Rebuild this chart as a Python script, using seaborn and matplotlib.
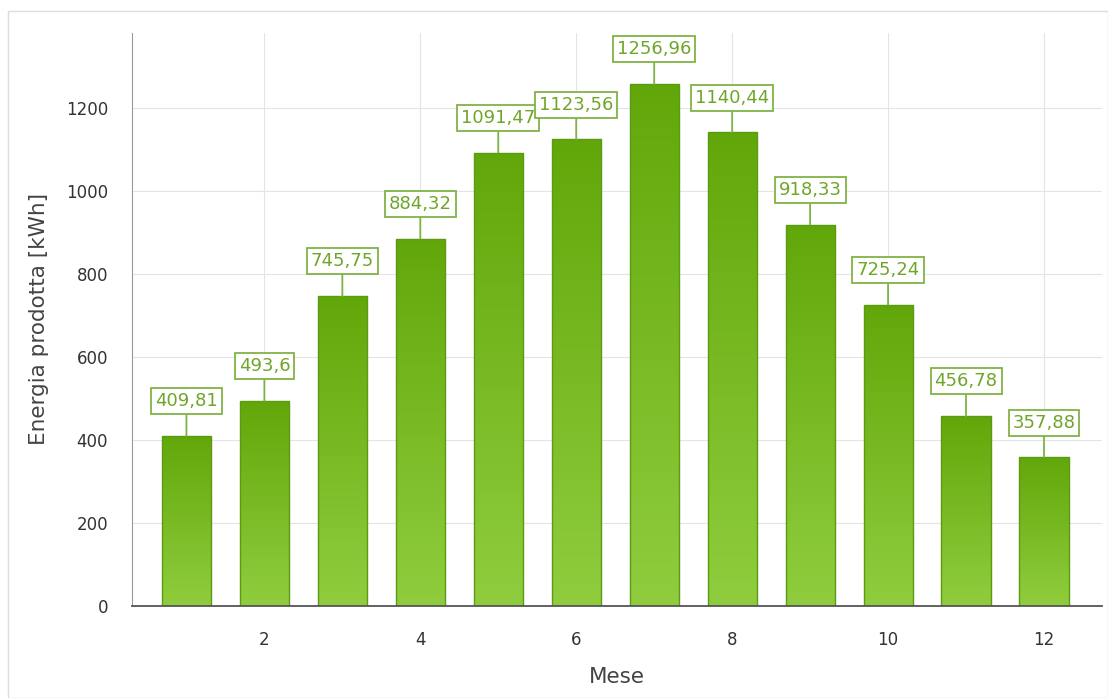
import numpy as np
import pandas as pd
import seaborn as sns
import matplotlib.pyplot as plt
from matplotlib.ticker import MultipleLocator
from matplotlib.colors import LinearSegmentedColormap
from matplotlib.patches import Rectangle

mesi = [1, 2, 3, 4, 5, 6, 7, 8, 9, 10, 11, 12]
energia = [409.81, 493.6, 745.75, 884.32, 1091.47, 1123.56, 1256.96, 1140.44, 918.33, 725.24, 456.78, 357.88]
etichette = ['409,81', '493,6', '745,75', '884,32', '1091,47', '1123,56', '1256,96', '1140,44', '918,33', '725,24', '456,78', '357,88']

df = pd.DataFrame({'Mese': mesi, 'Energia': energia})

sns.set_style('white')
plt.rcParams['font.family'] = ['DejaVu Sans']

fig = plt.figure(figsize=(11.08, 6.98), dpi=100)
ax = fig.add_axes([0.119, 0.132, 0.876, 0.821])

sns.barplot(data=df, x='Mese', y='Energia', native_scale=True, width=0.63,
            color='#74b51c', edgecolor='#5c9a12', linewidth=1, ax=ax)

# gradient fill inside each bar
cmap = LinearSegmentedColormap.from_list('verde', ['#90cd3e', '#62a70a'])
grad = np.linspace(0, 1, 256).reshape(-1, 1)
for p in ax.patches:
    x0, y0 = p.get_x(), p.get_y()
    w, h = p.get_width(), p.get_height()
    im = ax.imshow(grad, cmap=cmap, aspect='auto', origin='lower',
                   extent=[x0, x0 + w, y0, y0 + h], zorder=p.get_zorder())
    im.set_clip_path(p)
    p.set_facecolor('none')
    p.set_zorder(p.get_zorder() + 0.1)

for x, y, t in zip(mesi, energia, etichette):
    ax.annotate(t, xy=(x, y), xytext=(0, 25), textcoords='offset points',
                ha='center', va='center', fontsize=13, color='#6fa52a',
                bbox=dict(boxstyle='square,pad=0.22', fc='white', ec='#7fb345', lw=1.3),
                arrowprops=dict(arrowstyle='-', color='#7fb345', lw=1.3,
                                shrinkA=0, shrinkB=0), zorder=5)

ax.set_xlim(0.3, 12.75)
ax.set_ylim(0, 1380)
ax.xaxis.set_major_locator(MultipleLocator(2))
ax.xaxis.set_minor_locator(MultipleLocator(0.4))
ax.yaxis.set_major_locator(MultipleLocator(200))
ax.yaxis.set_minor_locator(MultipleLocator(100))
ax.grid(True, which='major', color='#e4e4e4', lw=0.8)
ax.set_axisbelow(True)

for s in ['top', 'right']:
    ax.spines[s].set_visible(False)
ax.spines['left'].set_color('#999999')
ax.spines['bottom'].set_color('#555555')
ax.spines['bottom'].set_linewidth(1.3)

ax.tick_params(axis='both', which='major', labelsize=12, colors='#333333', color='#999999')
ax.tick_params(axis='x', which='major', length=4, pad=14)
ax.tick_params(axis='y', which='major', length=7, pad=10)
ax.tick_params(axis='x', which='minor', length=4, direction='inout', color='#aaaaaa')
ax.tick_params(axis='y', which='minor', length=4, color='#bbbbbb')

ax.set_xlabel('Mese', fontsize=15.5, color='#444444', labelpad=13)
ax.set_ylabel('Energia prodotta [kWh]', fontsize=15.5, color='#444444', labelpad=12)

fig.patches.append(Rectangle((8 / 1108, 0), 1 - 8 / 1108, 1 - 11 / 698, transform=fig.transFigure,
                             fill=False, ec='#dddddd', lw=1))

fig.savefig('out.png', dpi=100)
